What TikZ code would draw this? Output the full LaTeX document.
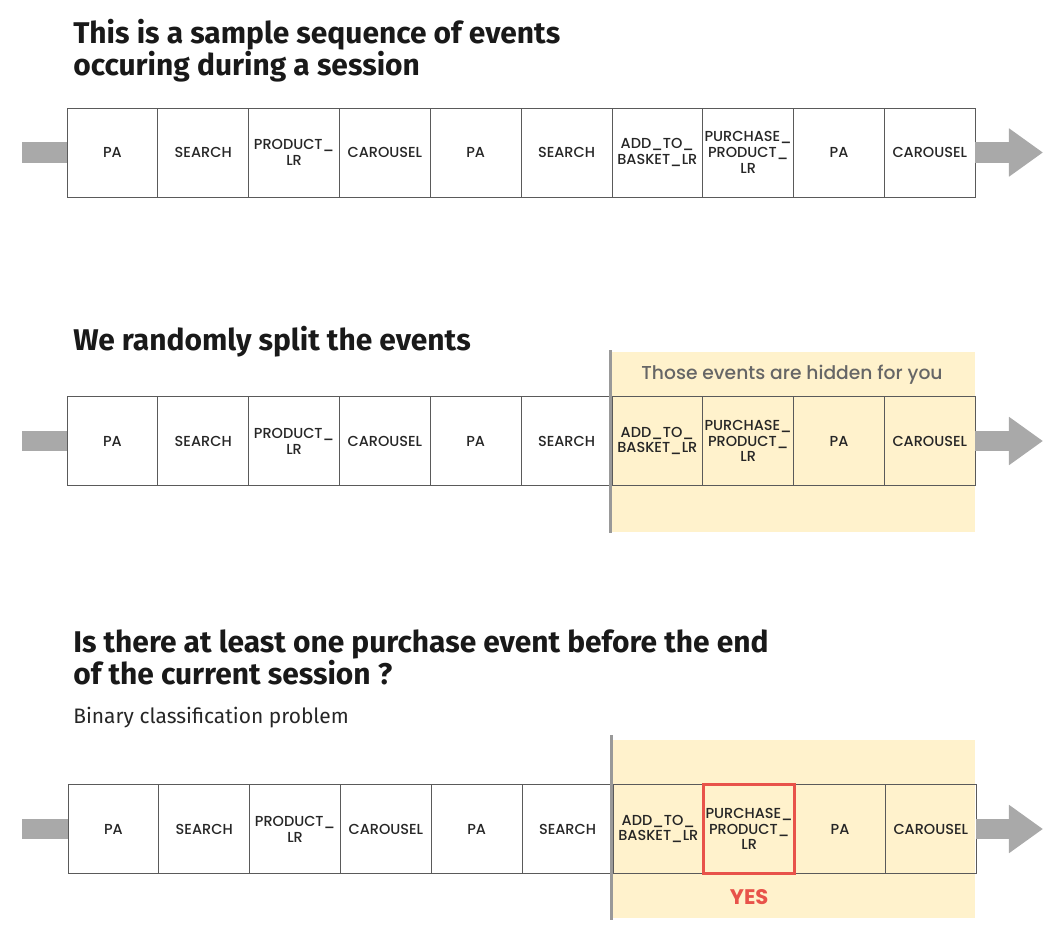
\documentclass[tikz,border=0pt]{standalone}
\usepackage{fontspec}
\setmainfont{Fira Sans}
\newfontfamily\evfont{Poppins}[UprightFont=* Medium, BoldFont=* Bold]
\usetikzlibrary{positioning,arrows.meta}

\definecolor{hidebg}{HTML}{FFF2CC}
\definecolor{yesred}{HTML}{E8534A}
\definecolor{flow}{HTML}{A9A9A9}
\definecolor{boxline}{HTML}{5A5A5A}

\tikzset{
  ev/.style={draw=boxline, line width=0.6pt, outer sep=0pt, inner sep=0pt,
    minimum width=2.27cm, minimum height=2.225cm, align=center,
    font=\evfont\fontsize{10.3}{11.3}\selectfont, text=black!85},
  head/.style={anchor=north west, align=left, inner sep=0pt,
    font=\bfseries\fontsize{21.3}{20.8}\selectfont, text=black!90},
  flowin/.style={draw=flow, line width=0.5cm},
  flowout/.style={draw=flow, line width=0.5cm, -{Triangle[width=1.15cm,length=0.85cm]}},
  cut/.style={draw=black!40, line width=0.075cm},
}

\def\evlist{SEARCH,{PRODUCT\_\\LR},CAROUSEL,PA,SEARCH,{ADD\_TO\_\\BASKET\_LR},{PURCHASE\_\\PRODUCT\_\\LR},PA,CAROUSEL}

\begin{document}
\begin{tikzpicture}[x=0.025cm,y=-0.025cm]
\useasboundingbox (0,0) rectangle (1054,940);

%row 1
\node[head] (t1) at (73,19) {This is a sample sequence of events\\occuring during a session};
\node[ev, anchor=west] (a1) at (67,152.5) {PA};
\foreach \t [count=\i from 2, remember=\i as \p (initially 1)] in \evlist
  \node[ev, right=0pt of a\p] (a\i) {\t};
\coordinate (in1) at (22,152.5);
\coordinate (out1) at (1043,152.5);
\draw[flowin] (in1) -- (a1.west);
\draw[flowout] (a10.east) -- (out1);

%row 2
\node[head] (t2) at (73,326) {We randomly split the events};
\fill[hidebg] (612,352) rectangle (975,532);
\node[anchor=center, inner sep=0pt, font=\evfont\fontsize{13.3}{14}\selectfont, text=black!60] (hid) at (792,375) {Those events are hidden for you};
\node[ev, anchor=west] (b1) at (67,441) {PA};
\foreach \t [count=\i from 2, remember=\i as \p (initially 1)] in \evlist
  \node[ev, right=0pt of b\p] (b\i) {\t};
\coordinate (in2) at (22,441);
\coordinate (out2) at (1043,441);
\draw[flowin] (in2) -- (b1.west);
\draw[flowout] (b10.east) -- (out2);
\draw[cut] (610,350) -- (610,533);

%row 3
\node[head] (t3) at (73,629) {Is there at least one purchase event before the end\\of the current session ?};
\node[anchor=north west, inner sep=0pt, font=\fontsize{14.9}{16}\selectfont, text=black!85] (sub) at (73,707) {Binary classification problem};
\fill[hidebg] (612,740) rectangle (975,918);
\node[ev, anchor=west] (c1) at (68,829) {PA};
\foreach \t [count=\i from 2, remember=\i as \p (initially 1)] in \evlist
  \node[ev, right=0pt of c\p] (c\i) {\t};
\coordinate (in3) at (22,829);
\coordinate (out3) at (1043,829);
\draw[flowin] (in3) -- (c1.west);
\draw[flowout] (c10.east) -- (out3);
\draw[cut] (611,735) -- (611,920);
\draw[yesred, line width=0.075cm] (c8.north west) rectangle (c8.south east);
\node[below=0.4cm of c8, inner sep=0pt, font=\evfont\bfseries\fontsize{15}{16}\selectfont, text=yesred] (yes) {YES};

\end{tikzpicture}
\end{document}
